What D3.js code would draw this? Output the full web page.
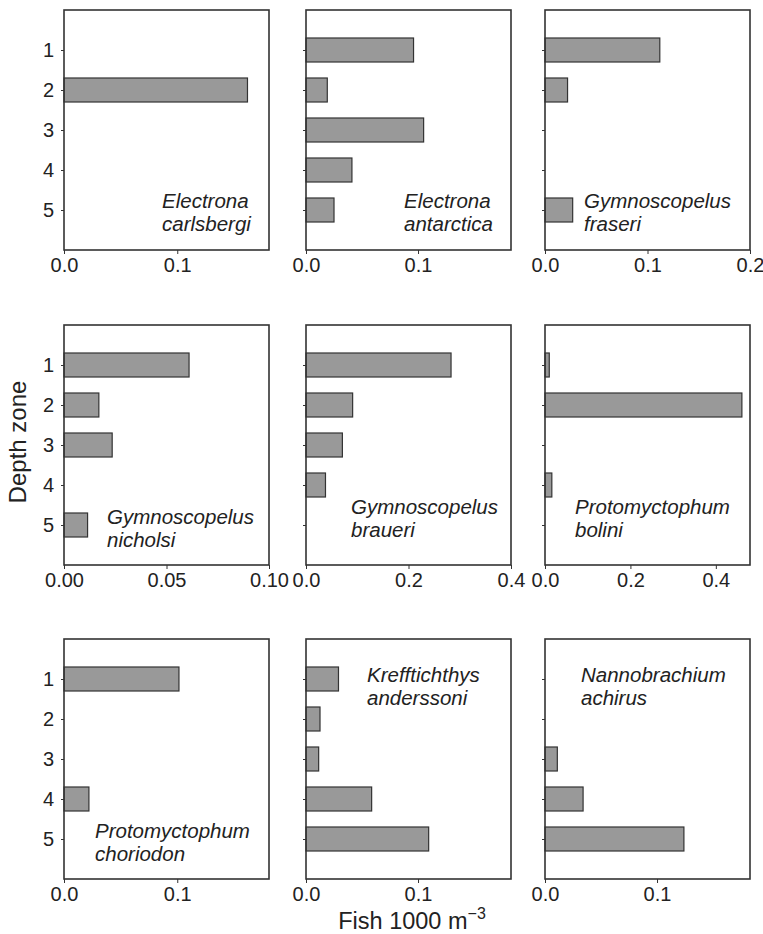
<!DOCTYPE html>
<html>
<head>
<meta charset="utf-8">
<script src="https://cdn.jsdelivr.net/npm/d3@7"></script>
<style>
  html, body { margin: 0; padding: 0; background: #fff; }
  svg { display: block; }
  text { font-family: "Liberation Sans", Arial, Helvetica, sans-serif; fill: #222; }
</style>
</head>
<body>
<svg id="chart" width="763" height="934"></svg>
<script>
// ---- Data ----
const zones = [1, 2, 3, 4, 5];
const speciesNames = [
  ["Electrona", "carlsbergi"],
  ["Electrona", "antarctica"],
  ["Gymnoscopelus", "fraseri"],
  ["Gymnoscopelus", "nicholsi"],
  ["Gymnoscopelus", "braueri"],
  ["Protomyctophum", "bolini"],
  ["Protomyctophum", "choriodon"],
  ["Krefftichthys", "anderssoni"],
  ["Nannobrachium", "achirus"]
];
// Fish 1000 m^-3 by depth zone 1..5 (null = no bar)
const eCarlsbergi  = [null, 0.162, null, null, null];
const eAntarctica  = [0.096, 0.019, 0.105, 0.041, 0.025];
const gFraseri     = [0.112, 0.022, null, null, 0.027];
const gNicholsi    = [0.061, 0.017, 0.0235, null, 0.0115];
const gBraueri     = [0.283, 0.091, 0.071, 0.038, null];
const pBolini      = [0.010, 0.461, null, 0.016, null];
const pChoriodon   = [0.1015, null, null, 0.022, null];
const kAnderssoni  = [0.029, 0.0125, 0.0113, 0.0586, 0.1095];
const nAchirus     = [null, null, 0.011, 0.034, 0.124];
const seriesValues = [eCarlsbergi, eAntarctica, gFraseri, gNicholsi, gBraueri, pBolini, pChoriodon, kAnderssoni, nAchirus];

// axis domains and tick labels per panel
const xMax = [0.181, 0.183, 0.2, 0.1, 0.4, 0.48, 0.181, 0.183, 0.183];
const xTickValues = [
  [0, 0.1], [0, 0.1], [0, 0.1, 0.2],
  [0, 0.05, 0.1], [0, 0.2, 0.4], [0, 0.2, 0.4],
  [0, 0.1], [0, 0.1], [0, 0.1]
];
const xTickFormats = [".1f", ".1f", ".1f", ".2f", ".1f", ".1f", ".1f", ".1f", ".1f"];
const xAxisTitle = "Fish 1000 m";
const xAxisTitleSup = "\u22123";
const yAxisTitle = "Depth zone";

// ---- Layout ----
const colX = [64, 306, 545];
const rowY = [10, 325, 639];
const pw = 205, ph = 240;
// species label offsets (left, first baseline) relative to panel
const labelPos = [
  [98, 198], [98, 198], [39, 198],
  [43, 199], [45, 189], [30, 189],
  [31, 199], [61, 43], [36, 43]
];

const svg = d3.select("#chart");

seriesValues.forEach((vals, i) => {
  const r = Math.floor(i / 3), c = i % 3;
  const g = svg.append("g").attr("transform", `translate(${colX[c]},${rowY[r]})`);

  const x = d3.scaleLinear().domain([0, xMax[i]]).range([0, pw]);
  const y = d3.scaleLinear().domain([0, 6]).range([0, ph]);
  const barH = (y(1) - y(0)) * 0.6;

  // bars
  g.selectAll("rect.bar")
    .data(zones.map((z, k) => ({ z, v: vals[k] })).filter(d => d.v != null))
    .join("rect")
    .attr("class", "bar")
    .attr("x", x(0))
    .attr("y", d => y(d.z) - barH / 2)
    .attr("width", d => x(d.v) - x(0))
    .attr("height", barH)
    .attr("fill", "#999999")
    .attr("stroke", "#333")
    .attr("stroke-width", 1.2);

  // y axis
  const yAxis = d3.axisLeft(y).tickValues(zones).tickSize(3).tickPadding(7)
    .tickFormat(c === 0 ? d3.format("d") : () => "");
  const ya = g.append("g").call(yAxis);
  ya.select(".domain").remove();
  ya.selectAll("line").attr("stroke", "#333").attr("stroke-width", 1);
  ya.selectAll("text").style("font-size", "20px").attr("fill", "#222")
    .style("font-family", '"Liberation Sans", Arial, sans-serif');

  // x axis
  const xAxis = d3.axisBottom(x).tickValues(xTickValues[i]).tickSize(4).tickPadding(4)
    .tickFormat(d3.format(xTickFormats[i]));
  const xa = g.append("g").attr("transform", `translate(0,${ph})`).call(xAxis);
  xa.select(".domain").remove();
  xa.selectAll("line").attr("stroke", "#333").attr("stroke-width", 1);
  xa.selectAll("text").style("font-size", "20px").attr("fill", "#222")
    .style("font-family", '"Liberation Sans", Arial, sans-serif');

  // frame
  g.append("rect").attr("x", 0).attr("y", 0).attr("width", pw).attr("height", ph)
    .attr("fill", "none").attr("stroke", "#333").attr("stroke-width", 1.6);

  // species label
  const t = g.append("text")
    .attr("x", labelPos[i][0]).attr("y", labelPos[i][1])
    .style("font-size", "20.5px").style("font-style", "italic");
  speciesNames[i].forEach((line, k) => {
    t.append("tspan").attr("x", labelPos[i][0]).attr("dy", k === 0 ? 0 : 23).text(line);
  });
});

// x axis title
const xt = svg.append("text")
  .attr("x", 412).attr("y", 929)
  .attr("text-anchor", "middle")
  .style("font-size", "23.5px");
xt.append("tspan").text(xAxisTitle);
xt.append("tspan").attr("dy", -10).style("font-size", "16px").text(xAxisTitleSup);

// y axis title
svg.append("text")
  .attr("transform", "translate(26,442) rotate(-90)")
  .attr("text-anchor", "middle")
  .style("font-size", "24px")
  .text(yAxisTitle);
</script>
</body>
</html>
